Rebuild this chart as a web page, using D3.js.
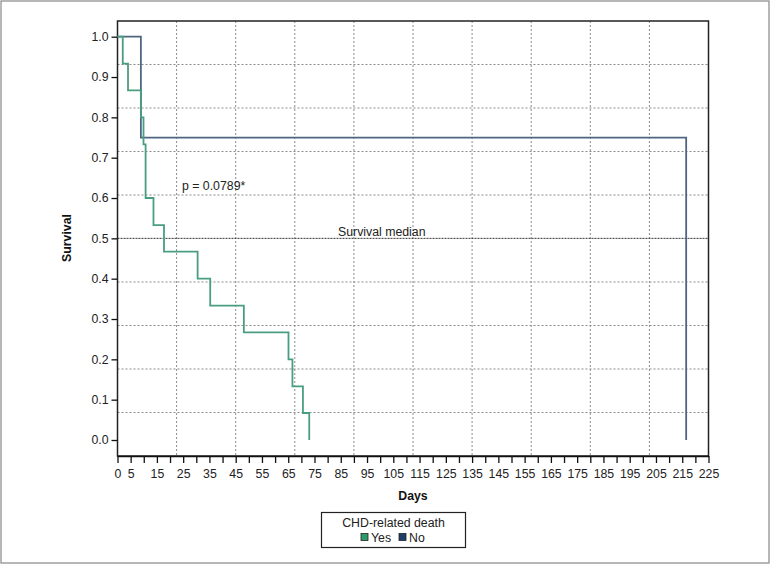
<!DOCTYPE html>
<html><head><meta charset="utf-8">
<script src="https://cdn.jsdelivr.net/npm/d3@7"></script>
<style>body{margin:0;background:#fff}svg{display:block}text{font-family:"Liberation Sans Narrow","Arial Narrow","Liberation Sans",Arial,sans-serif}</style>
</head><body><svg id="c" width="771" height="565"></svg>
<script>
// Kaplan-Meier steps: [day, survival]
const yesSteps = [[0,1],[2,0.933],[4,0.867],[8.9,0.8],[9.9,0.733],[10.7,0.6],[13.7,0.533],[17.7,0.467],[30.5,0.4],[35.3,0.333],[48.1,0.267],[65.1,0.2],[66.6,0.133],[70.6,0.067],[73,0]];
const noSteps = [[0,1],[8.9,0.75],[216.5,0]];
const xTicks = d3.range(0,226,5);
const xTickLabels = [0,5,15,25,35,45,55,65,75,85,95,105,115,125,135,145,155,165,175,185,195,205,215,225];
const yTicks = [0,0.1,0.2,0.3,0.4,0.5,0.6,0.7,0.8,0.9,1.0];
const seriesNames = ["Yes","No"];
const seriesColors = ["#4a9e80","#4f6680"];
const legendColors = ["#2e9a6a","#1f3f6a"];
const pLabel = "p = 0.0789*";
const medianLabel = "Survival median";
const FS = 12.3;

const svg = d3.select("#c");
svg.append("rect").attr("x",1).attr("y",1).attr("width",768).attr("height",562).attr("fill","#fff").attr("stroke","#888").attr("stroke-width",1.2);

const L=117.5, R=708.5, T=21, B=456;
const x = d3.scaleLinear().domain([0,225]).range([L,R]);
const y = d3.scaleLinear().domain([0,1]).range([440,36.7]);

// grid (10 equal divisions of the plot area)
const g = svg.append("g");
for(let i=1;i<10;i++){
  const gx = L + (R-L)*i/10;
  g.append("line").attr("x1",gx).attr("x2",gx).attr("y1",T).attr("y2",B).attr("stroke","#8a8a8a").attr("stroke-dasharray","2,2").attr("stroke-width",1);
}
for(let i=1;i<10;i++){
  if(i===5) continue;
  const gy = T + (B-T)*i/10;
  g.append("line").attr("x1",L).attr("x2",R).attr("y1",gy).attr("y2",gy).attr("stroke","#8a8a8a").attr("stroke-dasharray","2,2").attr("stroke-width",1);
}
// median line
g.append("line").attr("x1",L).attr("x2",R).attr("y1",y(0.5)).attr("y2",y(0.5)).attr("stroke","#333").attr("stroke-dasharray","2,1").attr("stroke-width",1);
svg.append("text").attr("x",338).attr("y",236).attr("font-size",FS).attr("fill","#222").text(medianLabel);

// frame
svg.append("rect").attr("x",L).attr("y",T).attr("width",R-L).attr("height",B-T).attr("fill","none").attr("stroke","#222").attr("stroke-width",1.5);

// axes
const xAxis = d3.axisBottom(x).tickValues(xTicks).tickFormat(d => xTickLabels.includes(d) ? String(d) : "").tickSize(7).tickSizeOuter(0);
const xa = svg.append("g").attr("transform",`translate(0,${B})`).call(xAxis);
xa.select(".domain").attr("stroke","#111").attr("stroke-width",1.5);
xa.selectAll(".tick line").attr("stroke","#111").attr("stroke-width",1.3);
xa.selectAll("text").attr("font-size",FS).attr("fill","#222").attr("dy","0.95em").style("font-family","'Liberation Sans Narrow','Arial Narrow','Liberation Sans',Arial,sans-serif");

const yAxis = d3.axisLeft(y).tickValues(yTicks).tickFormat(d3.format(".1f")).tickSize(6).tickSizeOuter(0);
const ya = svg.append("g").attr("transform",`translate(${L},0)`).call(yAxis);
ya.select(".domain").remove();
ya.selectAll(".tick line").attr("stroke","#111").attr("stroke-width",1.3);
ya.selectAll("text").attr("font-size",FS).attr("fill","#222").style("font-family","'Liberation Sans Narrow','Arial Narrow','Liberation Sans',Arial,sans-serif");

// curves
const line = d3.line().x(d=>x(d[0])).y(d=>y(d[1])).curve(d3.curveStepAfter);
svg.append("path").datum(noSteps).attr("d",line).attr("fill","none").attr("stroke",seriesColors[1]).attr("stroke-width",1.8);
svg.append("path").datum(yesSteps).attr("d",line).attr("fill","none").attr("stroke",seriesColors[0]).attr("stroke-width",1.8);

svg.append("text").attr("x",182).attr("y",190).attr("font-size",FS).attr("fill","#222").text(pLabel);

// axis titles
svg.append("text").attr("x",413).attr("y",500).attr("text-anchor","middle").attr("font-size",FS).attr("font-weight","bold").attr("fill","#111").text("Days");
svg.append("text").attr("transform","translate(71,238) rotate(-90)").attr("text-anchor","middle").attr("font-size",FS).attr("font-weight","bold").attr("fill","#111").text("Survival");

// legend
const lg = svg.append("g");
lg.append("rect").attr("x",321.5).attr("y",512.5).attr("width",144).attr("height",35).attr("fill","#fff").attr("stroke","#222").attr("stroke-width",1.2);
lg.append("text").attr("x",393.5).attr("y",526.5).attr("text-anchor","middle").attr("font-size",FS).attr("fill","#222").text("CHD-related death");
const lx = [361, 399];
seriesNames.forEach((n,i)=>{
  lg.append("rect").attr("x",lx[i]).attr("y",533.5).attr("width",7).attr("height",7).attr("fill",legendColors[i]).attr("stroke","#222").attr("stroke-width",0.8);
  lg.append("text").attr("x",lx[i]+10).attr("y",541.5).attr("font-size",FS).attr("fill","#222").text(n);
});
</script></body></html>
